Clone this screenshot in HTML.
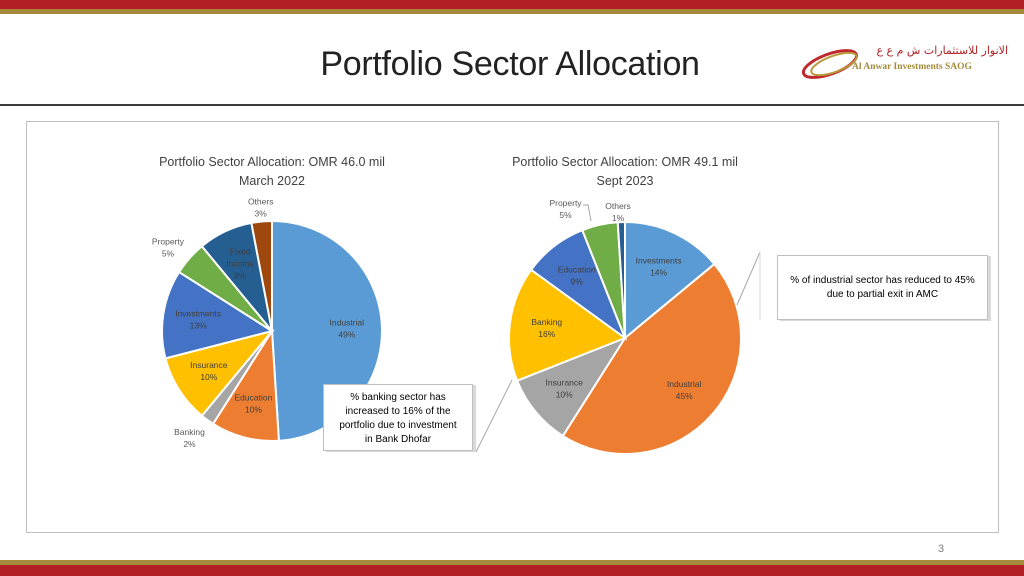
<!DOCTYPE html>
<html><head><meta charset="utf-8"><style>
body{margin:0;width:1024px;height:576px;position:relative;background:#fff;font-family:"Liberation Sans","Noto Sans CJK SC",sans-serif;overflow:hidden}
.abs{position:absolute}
.t{font-size:12.5px;color:#404040;text-align:center;line-height:19px}
.box{border:1px solid #bfbfbf;background:#fff;font-size:10px;color:#000;text-align:center;line-height:14px;box-shadow:3px 1px 0 #d9d9d9}
</style></head><body>
<div class="abs" style="left:0;top:0;width:1024px;height:9px;background:#b21f24"></div>
<div class="abs" style="left:0;top:9px;width:1024px;height:5px;background:#a48a3a"></div>
<div class="abs" style="left:0;top:560px;width:1024px;height:5px;background:#a48a3a"></div>
<div class="abs" style="left:0;top:565px;width:1024px;height:11px;background:#b21f24"></div>
<div class="abs" style="left:250px;top:45px;width:520px;text-align:center;font-size:34px;color:#222;letter-spacing:-0.3px">Portfolio Sector Allocation</div>
<div class="abs" style="left:0;top:104px;width:1024px;height:2px;background:#3a3a3a"></div>
<div class="abs" style="left:800px;top:40px;width:210px;height:45px">
<svg width="60" height="45" style="position:absolute;left:0;top:0"><ellipse cx="30" cy="24" rx="28" ry="10" transform="rotate(-20 30 24)" fill="none" stroke="#c0282d" stroke-width="3"/><ellipse cx="34" cy="24" rx="24" ry="8" transform="rotate(-20 34 24)" fill="none" stroke="#b89a3c" stroke-width="2"/></svg>
<div style="position:absolute;left:60px;top:4px;width:148px;text-align:right;font-size:11px;color:#b21f24;font-family:'DejaVu Sans',sans-serif;white-space:nowrap;overflow:hidden">الانوار للاستثمارات ش م ع ع</div>
<div style="position:absolute;left:52px;top:22px;font-size:9.5px;color:#a48a3a;font-weight:bold;font-family:'Liberation Serif',serif">Al Anwar Investments SAOG</div>
</div>
<div class="abs" style="left:26px;top:121px;width:971px;height:410px;border:1px solid #bfbfbf"></div>
<div class="abs t" style="left:122px;top:153px;width:300px">Portfolio Sector Allocation: OMR 46.0 mil<br>March 2022</div>
<div class="abs t" style="left:475px;top:153px;width:300px">Portfolio Sector Allocation: OMR 49.1 mil<br>Sept 2023</div>
<svg id="pies" class="abs" style="left:0;top:0" width="1024" height="576"></svg>
<div class="abs box" style="left:323px;top:384px;width:150px;height:67px;padding-top:6px;box-sizing:border-box">% banking sector has<br>increased to 16% of the<br>portfolio due to investment<br>in Bank Dhofar</div>
<div class="abs box" style="left:777px;top:255px;width:211px;height:65px;padding-top:18px;box-sizing:border-box">% of industrial sector has reduced to 45%<br>due to partial exit in AMC</div>
<div class="abs" style="left:938px;top:543px;font-size:11px;color:#7f7f7f">3</div>
<script>
const leftCats=["Industrial","Education","Banking","Insurance","Investments","Property","Fixed Income","Others"];
const leftVals=[49,10,2,10,13,5,8,3];
const leftColors=["#5b9bd5","#ed7d31","#a5a5a5","#ffc000","#4472c4","#70ad47","#255e91","#9e480e"];
const rightCats=["Investments","Industrial","Insurance","Banking","Education","Property","Others"];
const rightVals=[14,45,10,16,9,5,1];
const rightColors=["#5b9bd5","#ed7d31","#a5a5a5","#ffc000","#4472c4","#70ad47","#255e91"];
const NS="http://www.w3.org/2000/svg";
const svg=document.getElementById('pies');
function mk(tag,attrs){const e=document.createElementNS(NS,tag);for(const k in attrs)e.setAttribute(k,attrs[k]);svg.appendChild(e);return e;}
function label(x,y,lines,fill){lines.forEach((s,i)=>{const t=mk('text',{x:x,y:y+i*12,'font-size':8.5,'text-anchor':'middle',fill:fill,'font-family':'Liberation Sans, sans-serif'});t.textContent=s;

});}
function pie(cx,cy,r,cats,vals,colors,prefix,outside){
 const tot=vals.reduce((a,b)=>a+b,0);let a=-Math.PI/2;
 vals.forEach((v,i)=>{const a2=a+v/tot*2*Math.PI;
  const x1=cx+r*Math.cos(a),y1=cy+r*Math.sin(a),x2=cx+r*Math.cos(a2),y2=cy+r*Math.sin(a2);
  const p=mk('path',{d:`M${cx},${cy}L${x1},${y1}A${r},${r} 0 ${a2-a>Math.PI?1:0} 1 ${x2},${y2}Z`,fill:colors[i],stroke:'#fff','stroke-width':2});
  
  
  const m=(a+a2)/2;const off=outside[cats[i]];
  let lx,ly;
  if(off){lx=cx+(r+10)*Math.cos(m)+off[0];ly=cy+(r+10)*Math.sin(m)+off[1];}
  else{lx=cx+r*0.68*Math.cos(m);ly=cy+r*0.68*Math.sin(m);}
  const nm=cats[i]==="Fixed Income"?["Fixed","Income"]:[cats[i]];
  label(lx,ly-3-(nm.length-1)*6,nm.concat([v+"%"]),off?'#595959':'#404040');
  a=a2;});
}
pie(272,331,110,leftCats,leftVals,leftColors,'left',{"Others":[0,-4],"Property":[-14,-4],"Banking":[-12,10]});
pie(625,338,116,rightCats,rightVals,rightColors,'right',{"Others":[-3,0],"Property":[-32,-6]});
const l0=mk('polyline',{points:'583,205 588,205 591,221',fill:'none',stroke:'#a6a6a6'});


const l1=mk('line',{x1:476,y1:452,x2:512,y2:380,stroke:'#a6a6a6'});


const l2=mk('line',{x1:760,y1:252,x2:737,y2:305,stroke:'#a6a6a6'});


const l3=mk('line',{x1:760,y1:252,x2:760,y2:320,stroke:'#d9d9d9'});


</script>
</body></html>
